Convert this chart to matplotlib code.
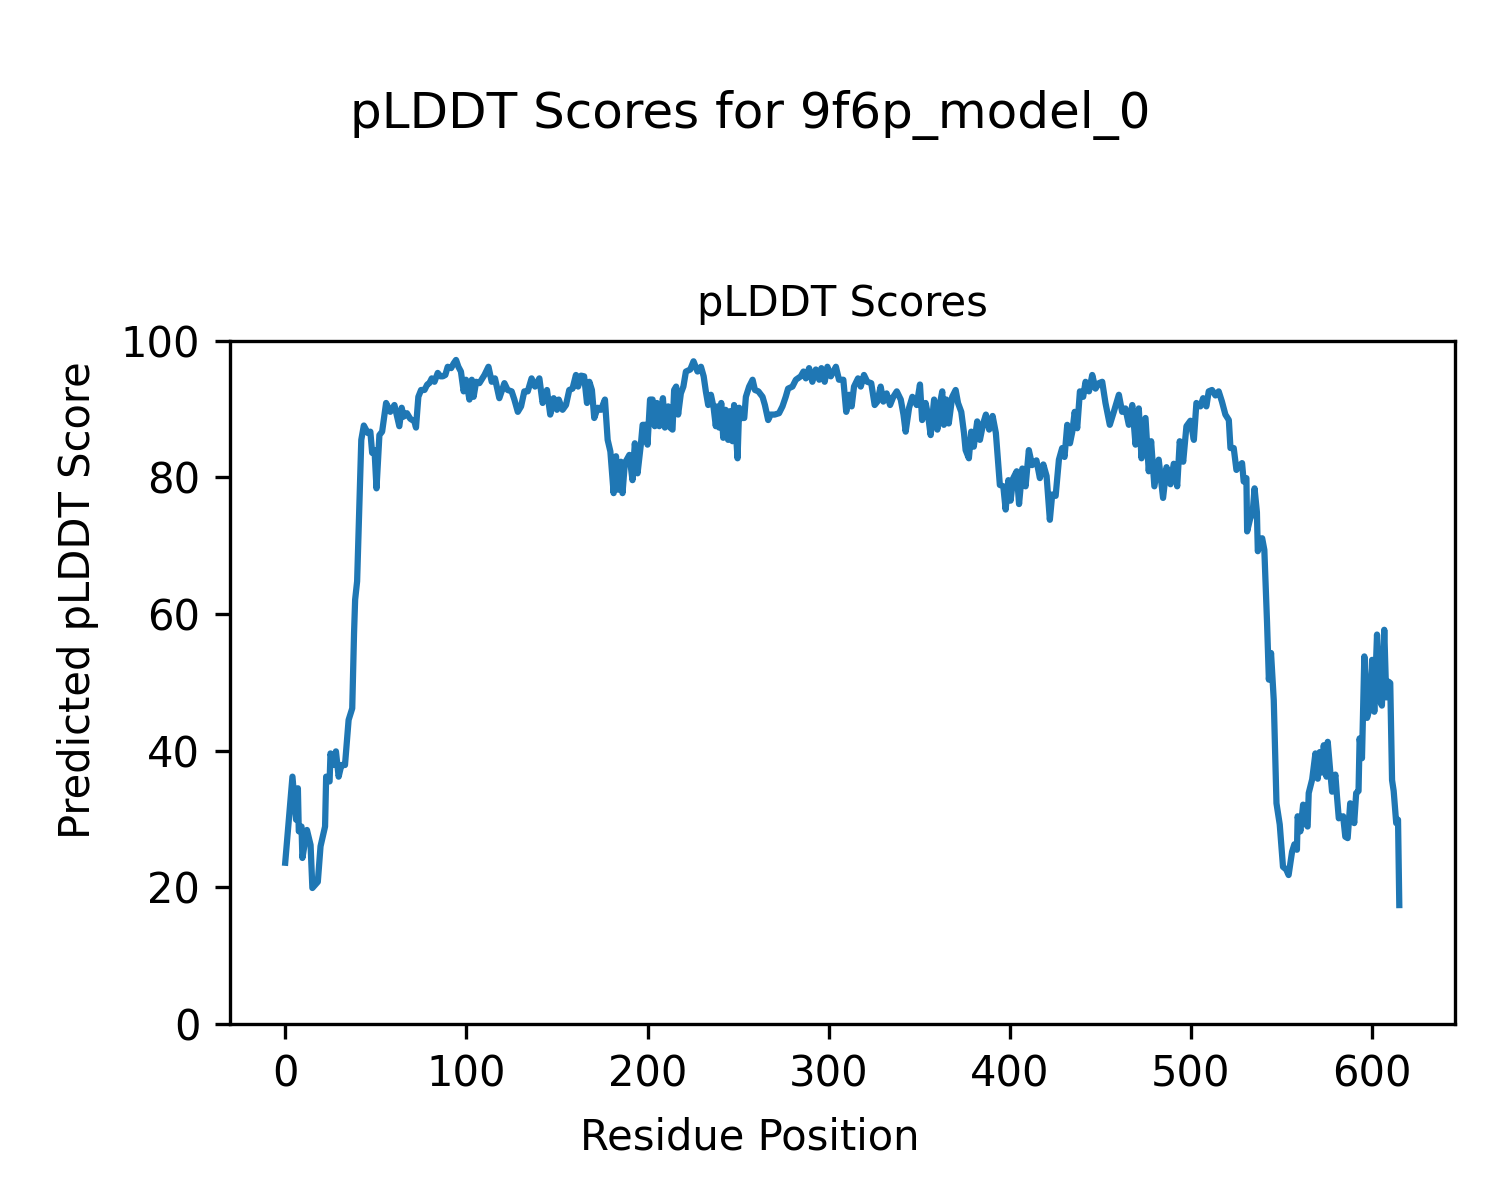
import matplotlib
matplotlib.use("Agg")
import matplotlib.pyplot as plt

residues = [0, 4, 6, 7, 7.5, 9, 9.5, 12, 14, 15, 18, 19.5, 22, 22.6, 24.5, 25, 26.5, 28, 29.5, 31, 33, 35, 37, 38, 38.6, 39.7, 41, 42, 43.4, 45.6, 47, 48, 49.3, 50.4, 52, 53.5, 55.7, 58, 60.3, 63, 64.3, 65.4, 67.2, 69, 71.3, 72.2, 73.5, 75, 76.9, 78.4, 79.6, 80.9, 82.4, 84.2, 85.7, 87, 88.4, 89.7, 91.6, 93, 94.3, 95.6, 97,
            98.5, 99.8, 101.7, 103, 104, 105.4, 107.2, 110, 112.2, 114, 115.8, 118.2, 121, 122.8, 125, 126.5, 128.4, 130.2, 132, 133.9, 136, 137.9, 140.3, 142.1, 144.5, 146.3, 148.2, 150, 151, 153.1, 155, 156.8, 158.6, 160.5, 161.7, 163.3, 165, 166.6, 167.9, 169.3, 170.6, 172.5, 174.3, 176.5, 178, 179.5, 181.3, 182.6, 183.8, 185.3, 186.2, 187.5, 190, 191.7, 193, 194.5, 196.4, 197.3, 199, 200, 201.4, 202.8, 204, 205.2, 206.5, 208.5, 209.6, 211.4, 212.5, 213.8, 214.7, 215.8, 216.9, 218.4, 219.8, 221.2, 223.6, 225.4, 227.6, 229.5, 231, 232.2, 233.5, 235, 236.5, 237.7, 238.6, 239.5, 240.7, 241.8, 243.1, 244.5, 245.6, 246.9, 247.8, 249.7, 250.6, 251.8, 253.4, 254.3, 256.1, 258, 259.3, 261.2, 263.5, 264.8, 266.6, 268, 270.2, 272.6, 274.5, 276.3, 277.6, 280, 281.9, 284.6, 286.1, 287.4, 289.2, 291, 292.9, 294.8, 296, 297.8, 299.3, 301.2, 304, 305.7, 308.1, 309.7, 311.3, 312.7, 314, 316.2, 317.7, 319.5, 321.3, 323.5, 325.4, 326.9, 328.7, 330.2, 332, 333.9, 335.7, 337.6, 339.8, 341.3, 342.5, 344.4, 346.2, 348.6, 350.4, 351.6, 353.5, 354.8, 356.3, 358.2, 360, 361.5, 362.7, 363.6, 365, 366.3, 368.2, 370.1, 371.4, 373.2, 374.7, 375.6, 377.4, 378.7, 380.1, 382, 383.5, 385.3, 386.8, 388.6, 390.5, 392.3, 394.5, 396.4, 397.7, 399.2, 400.4, 401.9, 403.8, 405.1, 406.9, 408.7, 410.5, 412.3, 414.7, 416.6, 418.5, 420.3, 422.1, 423.4, 425.3, 427.1, 428.9, 430.2, 431.7, 433.2, 434.5, 435.8, 437.2, 438.7, 440.5, 441.8, 443.7, 445.5, 447.3, 449.2, 451, 452.8, 455.2, 457.4, 460.2, 462, 463.8, 465.7, 467.6, 469.4, 471.2, 472.7, 474.9, 476.7, 478, 479.8, 482.2, 484.6, 486.5, 488.7, 490.5, 492.4, 493.8, 495.7, 497.5, 499.7, 501.6, 503, 505.2, 506.7, 508.5, 509.8, 511.6, 513.5, 515.3, 517.1, 519, 520.9, 521.8, 523.6, 525.1, 526.9, 528.2, 529.1, 530.6, 531, 532.7, 534, 535.1, 536.4, 536.9, 538, 539.3, 540.5, 542, 543, 544.2, 545.7, 547.2, 549, 550.8, 552.6, 553.9, 555.8, 557.1, 558.5, 558.9, 560.4, 561.9, 563.1, 564.4, 565, 566.9, 568.7, 570, 571.1, 572.4, 573.3, 574.8, 575.5, 577, 577.9, 579.7, 580.6, 581.6, 584, 585.2, 586.5, 587.9, 589.3, 590.1, 591.2, 592.5, 593.1, 594.4, 595.7, 597.2, 598.6, 600, 601.2, 602.7, 604.1, 605.4, 606.7, 607.8, 609.1, 610, 611, 611.9, 613.3, 614.3, 615]

scores = [23.6, 36.2, 29.9, 34.5, 28.2, 28.9, 24.3, 28.4, 26.2, 19.9, 20.8, 26.0, 28.9, 36.2, 35.5, 39.6, 37.9, 39.9, 36.2, 37.9, 37.9, 44.5, 46.2, 57.2, 62.1, 64.8, 76.7, 85.5, 87.6, 86.5, 86.7, 83.6, 84.0, 78.4, 86.2, 86.7, 90.9, 89.6, 90.6, 87.5, 90.2, 88.9, 89.4, 88.6, 88.2, 87.3, 91.8, 92.8, 92.8, 93.6, 93.8, 94.5, 94.0, 95.3, 94.8, 94.8, 95.0, 96.2, 96.0, 96.7, 97.2, 96.2, 95.5,
          92.6, 94.3, 91.4, 94.3, 91.8, 94.0, 93.8, 95.0, 96.2, 94.0, 94.5, 91.6, 93.8, 92.8, 92.6, 91.4, 89.6, 90.4, 92.6, 92.6, 94.5, 93.3, 94.5, 90.9, 92.8, 89.2, 91.6, 89.9, 91.4, 89.9, 90.6, 92.8, 93.0, 95.0, 93.3, 94.9, 94.8, 90.9, 94.0, 92.8, 88.7, 90.2, 89.9, 91.4, 85.5, 83.8, 77.7, 83.1, 78.2, 82.3, 77.7, 82.1, 83.3, 79.6, 85.0, 80.6, 85.0, 87.7, 87.7, 84.8, 91.4, 91.4, 87.5, 90.9, 87.5, 91.6, 87.3, 90.4, 87.3, 87.0, 92.8, 93.3, 89.2, 92.3, 93.3, 95.5, 95.8, 97.0, 95.5, 96.2, 94.8, 92.6, 90.6, 92.1, 90.2, 87.5, 90.4, 87.3, 90.9, 85.8, 89.9, 85.5, 89.7, 85.3, 90.6, 82.8, 90.2, 88.7, 88.7, 91.8, 93.3, 94.3, 92.8, 92.6, 91.8, 90.6, 88.4, 89.2, 89.2, 89.4, 90.4, 91.8, 93.0, 93.3, 94.3, 94.8, 95.5, 94.5, 96.0, 94.0, 95.8, 94.3, 96.0, 94.0, 96.2, 94.8, 96.2, 94.3, 94.3, 89.6, 92.1, 90.4, 93.3, 94.5, 93.3, 95.0, 94.0, 93.8, 90.6, 91.1, 93.3, 91.1, 92.3, 90.6, 91.8, 92.6, 91.4, 89.2, 86.7, 90.2, 91.8, 90.6, 93.6, 88.4, 90.9, 89.2, 86.2, 91.4, 87.0, 90.9, 92.6, 87.7, 91.4, 87.9, 91.8, 92.8, 90.9, 89.6, 86.5, 84.0, 82.8, 86.7, 84.5, 88.2, 85.5, 87.9, 89.2, 87.0, 89.0, 86.5, 78.9, 78.7, 75.3, 79.6, 76.6, 79.9, 80.9, 76.1, 81.3, 78.7, 84.0, 81.8, 82.5, 79.9, 81.9, 80.2, 73.8, 77.5, 77.3, 82.6, 84.3, 83.0, 87.7, 85.0, 86.7, 89.6, 87.2, 92.6, 91.8, 94.0, 92.6, 95.0, 93.0, 93.8, 94.0, 90.9, 87.7, 89.6, 92.1, 89.6, 90.1, 87.7, 90.6, 84.8, 90.1, 82.8, 88.7, 80.9, 85.3, 78.7, 82.6, 77.0, 81.5, 79.0, 82.0, 78.7, 85.3, 82.3, 87.5, 88.3, 85.5, 90.9, 90.4, 91.6, 90.4, 92.6, 92.8, 92.0, 92.6, 91.1, 89.2, 88.4, 84.3, 84.3, 81.1, 81.8, 82.1, 79.4, 79.9, 72.1, 74.0, 74.7, 78.4, 74.9, 69.2, 70.3, 71.1, 69.4, 58.7, 50.4, 54.3, 47.4, 32.3, 29.2, 23.0, 22.6, 21.8, 25.2, 26.3, 25.5, 30.4, 28.2, 32.1, 29.4, 28.9, 33.8, 35.8, 39.6, 35.9, 39.8, 36.8, 40.8, 36.2, 41.3, 36.6, 34.0, 36.5, 33.3, 30.1, 30.4, 27.4, 27.2, 32.3, 31.7, 29.4, 33.8, 34.1, 41.8, 38.9, 53.8, 44.8, 46.2, 53.3, 45.7, 57.0, 47.4, 46.6, 57.7, 47.8, 50.1, 49.9, 35.7, 34.1, 29.4, 29.9, 17.4]

title_text = "pLDDT Scores for 9f6p_model_0"
axes_title = "pLDDT Scores"
x_label = "Residue Position"
y_label = "Predicted pLDDT Score"

fig = plt.figure(figsize=(5, 4), dpi=300)
ax = fig.add_axes([0.153, 0.1467, 0.817, 0.5693])
ax.plot(residues, scores, color="#1f77b4", linewidth=1.5)
ax.set_ylim(0, 100)
ax.set_title(axes_title, fontsize=10)
fig.text(0.5, 1 - 1138 / 1200, x_label, fontsize=10, ha="center", va="center")
fig.text(0.052, 0.5, y_label, fontsize=10, ha="center", va="center", rotation=90)
fig.suptitle(title_text, fontsize=12, y=0.925)
fig.savefig("out.png", dpi=300)
